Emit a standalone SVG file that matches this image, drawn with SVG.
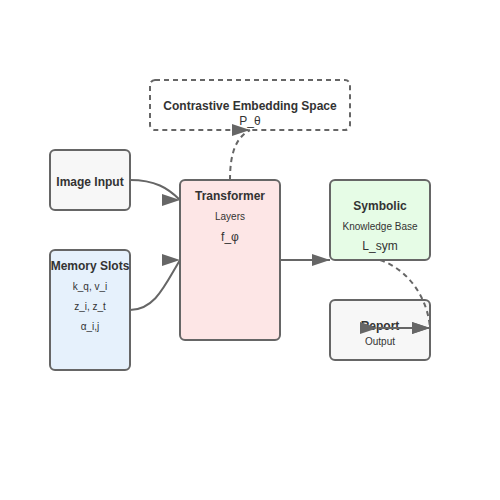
<svg xmlns="http://www.w3.org/2000/svg" width="500" height="500" viewBox="0 0 500 500">
<style>
.box{stroke:#666;stroke-width:2}
.t{font-family:"Liberation Sans",Arial,sans-serif;fill:#333;text-anchor:middle}
.b{font-size:12px;font-weight:bold}
.s{font-size:10px}
.m{font-size:12px}
.e{fill:none;stroke:#666;stroke-width:2}
.d{stroke-dasharray:5,4}
</style>
<defs>
<marker id="ah" markerWidth="18" markerHeight="12" refX="18" refY="6" markerUnits="userSpaceOnUse" orient="0">
<path d="M0,0 L18,6 L0,12 Z" fill="#666"/>
</marker>
</defs>
<rect width="500" height="500" fill="#fff"/>
<g id="contrastive">
<rect class="box d" x="150" y="80" width="200" height="50" rx="5" fill="#fff"/>
<text class="t b" x="250" y="110">Contrastive Embedding Space</text>
<text class="t m" x="250" y="125">P_θ</text>
</g>
<g id="image-input">
<rect class="box" x="50" y="150" width="80" height="60" rx="5" fill="#f7f7f7"/>
<text class="t b" x="90" y="186">Image Input</text>
</g>
<g id="memory-slots">
<rect class="box" x="50" y="250" width="80" height="120" rx="5" fill="#e6f1fc"/>
<text class="t b" x="90" y="270">Memory Slots</text>
<text class="t s" x="90" y="290">k_q, v_i</text>
<text class="t s" x="90" y="310">z_i, z_t</text>
<text class="t s" x="90" y="330">α_i,j</text>
</g>
<g id="transformer">
<rect class="box" x="180" y="180" width="100" height="160" rx="5" fill="#fde6e6"/>
<text class="t b" x="230" y="200">Transformer</text>
<text class="t s" x="230" y="220">Layers</text>
<text class="t m" x="230" y="241">f_φ</text>
</g>
<g id="symbolic">
<rect class="box" x="330" y="180" width="100" height="80" rx="5" fill="#e6fce6"/>
<text class="t b" x="380" y="210">Symbolic</text>
<text class="t s" x="380" y="230">Knowledge Base</text>
<text class="t m" x="380" y="250">L_sym</text>
</g>
<g id="report">
<rect class="box" x="330" y="300" width="100" height="60" rx="5" fill="#f7f7f7"/>
<text class="t b" x="380" y="330">Report</text>
<text class="t s" x="380" y="345">Output</text>
</g>
<g id="connectors">
<path class="e" d="M130,180 C155,180 168,188 180,200" marker-end="url(#ah)"/>
<path class="e" d="M130,310 C155,310 165,285 180,260" marker-end="url(#ah)"/>
<path class="e" d="M280,260 L330,260" marker-end="url(#ah)"/>
<path class="e d" d="M230,180 C230,155 235,138 250,130" marker-end="url(#ah)"/>
<path class="e d" d="M380,260 C410,270 428,300 430,328" marker-end="url(#ah)"/>
<path class="e" d="M378,328 L430,328" marker-start="url(#ah)" marker-end="url(#ah)"/>
</g>
</svg>
